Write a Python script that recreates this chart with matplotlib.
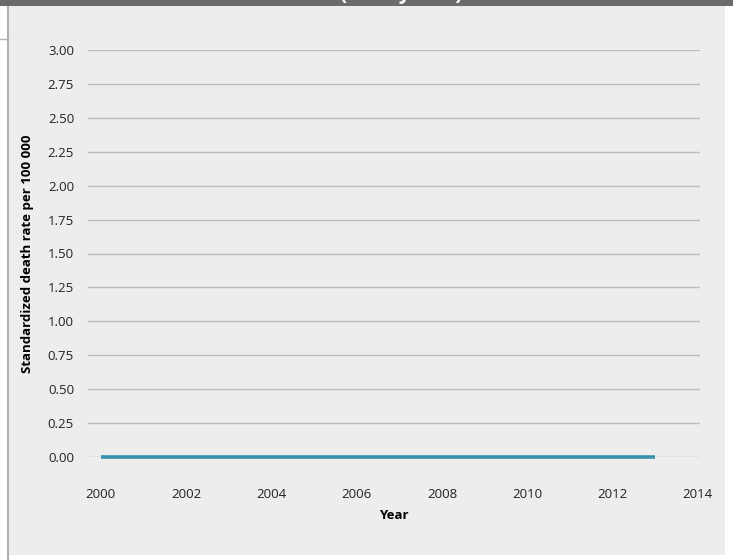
from matplotlib import pyplot as plt
from matplotlib.patches import Rectangle
from matplotlib.lines import Line2D

years = list(range(2000, 2014))
rates = [0.0] * len(years)
yticks = [0.00, 0.25, 0.50, 0.75, 1.00, 1.25, 1.50, 1.75, 2.00, 2.25, 2.50, 2.75, 3.00]
xticks = [2000, 2002, 2004, 2006, 2008, 2010, 2012, 2014]

plt.rcParams['font.family'] = ['Open Sans', 'DejaVu Sans']

W, H = 733, 560
fig = plt.figure(figsize=(W / 100, H / 100), dpi=100, facecolor='white')

# panel background, header bar and left border
fig.patches.append(Rectangle((8 / W, 1 - 555 / H), (725 - 8) / W, (555 - 6) / H,
                             transform=fig.transFigure, facecolor='#ededed', edgecolor='none', zorder=-2))
fig.patches.append(Rectangle((0, 1 - 6 / H), 1, 6 / H,
                             transform=fig.transFigure, facecolor='#6b6b6b', edgecolor='none', zorder=-1))
fig.lines.append(Line2D([7.5 / W, 7.5 / W], [0, 1 - 6 / H], transform=fig.transFigure,
                        color='#b0b0b0', lw=1.5, zorder=-1))
fig.lines.append(Line2D([0, 7.5 / W], [1 - 39 / H, 1 - 39 / H], transform=fig.transFigure,
                        color='#b0b0b0', lw=1, zorder=-1))
fig.text(0.548, 1 + 1 / H, '(0\u201319 years)', color='white', fontsize=15, fontweight='bold',
         ha='center', va='baseline')

ax = fig.add_axes([88 / W, 1 - 457 / H, (700 - 88) / W, (457 - 50) / H])
ax.set_facecolor('none')
ax.plot(years, rates, color='#3a92aa', lw=2.6, solid_capstyle='butt', zorder=3, clip_on=False)
ax.set_xlim(1999.7, 2014.05)
ax.set_ylim(0, 3.0)
ax.set_yticks(yticks)
ax.set_yticklabels([f'{v:.2f}' for v in yticks])
ax.set_xticks(xticks)
ax.grid(axis='y', color='#bdbdbd', lw=1)
ax.set_axisbelow(True)
for spine in ax.spines.values():
    spine.set_visible(False)
ax.tick_params(axis='both', length=0, labelsize=9.5, colors='#222222')
ax.tick_params(axis='y', pad=10)
ax.tick_params(axis='x', pad=22)
ax.set_xlabel('Year', fontsize=9.5, fontweight='bold', labelpad=6)
ax.set_ylabel('Standardized death rate per 100 000', fontsize=9.5, fontweight='bold', labelpad=10)

fig.savefig('out.png', dpi=100, facecolor='white')
